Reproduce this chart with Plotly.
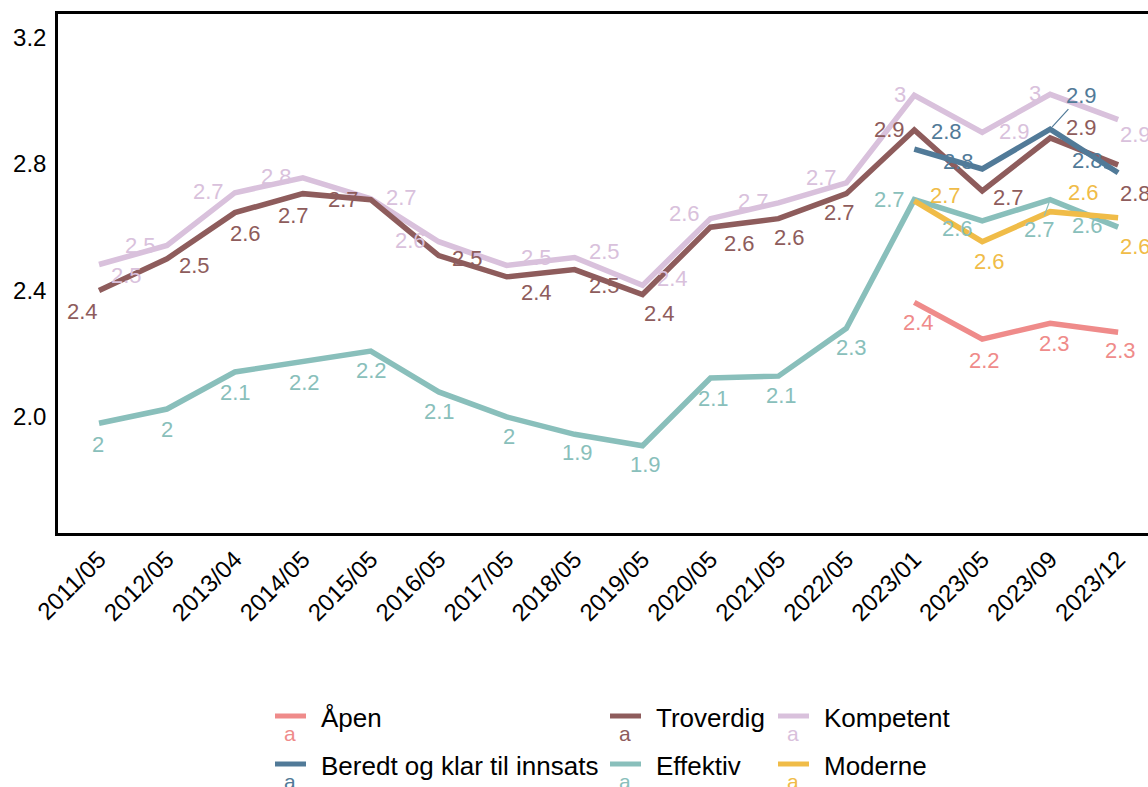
import plotly.graph_objects as go

# ---------------- data ----------------
categories = ["2011/05", "2012/05", "2013/04", "2014/05", "2015/05", "2016/05",
              "2017/05", "2018/05", "2019/05", "2020/05", "2021/05", "2022/05",
              "2023/01", "2023/05", "2023/09", "2023/12"]

apen = [None, None, None, None, None, None, None, None, None, None, None, None,
        2.362, 2.246, 2.296, 2.268]
troverdig = [2.40, 2.50, 2.646, 2.706, 2.687, 2.51, 2.443, 2.466, 2.387, 2.60,
             2.627, 2.706, 2.907, 2.715, 2.882, 2.797]
kompetent = [2.482, 2.542, 2.709, 2.756, 2.69, 2.554, 2.479, 2.504, 2.416, 2.627,
             2.677, 2.74, 3.017, 2.90, 3.02, 2.94]
beredt = [None, None, None, None, None, None, None, None, None, None, None, None,
          2.847, 2.784, 2.91, 2.772]
effektiv = [1.98, 2.025, 2.142, 2.176, 2.208, 2.079, 2.0, 1.945, 1.909, 2.123,
            2.129, 2.28, 2.687, 2.62, 2.687, 2.60]
moderne = [None, None, None, None, None, None, None, None, None, None, None, None,
           2.683, 2.554, 2.649, 2.63]

y_ticks = [2.0, 2.4, 2.8, 3.2]

# ---------------- styles ----------------
FONT = "Liberation Sans, Arial, Helvetica, sans-serif"
colors = {
    "Åpen": "#EF8B8A",
    "Troverdig": "#8E5C5C",
    "Kompetent": "#D9C1DC",
    "Beredt og klar til innsats": "#517A98",
    "Effektiv": "#89BFBB",
    "Moderne": "#F0BC48",
}
series = {
    "Åpen": apen,
    "Troverdig": troverdig,
    "Kompetent": kompetent,
    "Beredt og klar til innsats": beredt,
    "Effektiv": effektiv,
    "Moderne": moderne,
}
draw_order = ["Kompetent", "Troverdig", "Effektiv", "Moderne",
              "Beredt og klar til innsats", "Åpen"]

# label nudges in pixels (dx right, dy down), per point; None -> no point
label_nudge = {
    "Kompetent": [(27, 11), (-26, 0), (-26, -1), (-26, -1), (31, -1), (-28, -1),
                  (30, -8), (30, -6), (30, -7), (-26, -5), (-25, -1), (-25, -5),
                  (-14, -1), (32, -1), (-15, -1), (17, 15)],
    "Troverdig": [(-17, 21), (28, 7), (11, 21), (-9, 22), (-27, 0), (29, 3),
                  (30, 16), (30, 16), (17, 19), (29, 16), (11, 19), (-7, 19),
                  (-25, -1), (26, 7), (31, -10), (17, 29)],
    "Effektiv": [(-1, 21), (0, 20), (1, 20), (2, 21), (1, 19), (1, 20),
                 (2, 20), (3, 18), (3, 19), (3, 20), (3, 19), (5, 19),
                 (-25, 0), (-25, 8), (-11, 30), (-31, -2)],
    "Moderne": [None] * 12 + [(31, -5), (7, 20), (33, -19), (17, 29)],
    "Beredt og klar til innsats": [None] * 12 + [(32, -18), (-24, -7), (31, -34), (-31, -12)],
    "Åpen": [None] * 12 + [(4, 20), (2, 21), (4, 20), (2, 18)],
}
# labels that get a repel segment
segments = {("Beredt og klar til innsats", 14), ("Beredt og klar til innsats", 15),
            ("Effektiv", 14)}

fig = go.Figure()
for name in draw_order:
    fig.add_trace(go.Scatter(
        x=categories, y=series[name], mode="lines", name=name,
        line=dict(color=colors[name], width=5.5), connectgaps=False,
        showlegend=False, hoverinfo="skip"))


def fmt(v):
    return f"{round(v, 1):g}"


LABEL_SIZE = 22
annotations = []
for name in draw_order:
    vals = series[name]
    for i, v in enumerate(vals):
        if v is None:
            continue
        dx, dy = label_nudge[name][i]
        if (name, i) in segments:
            annotations.append(dict(
                x=categories[i], y=v, xref="x", yref="y", text=fmt(v),
                showarrow=True, ax=dx, ay=dy, arrowhead=0, arrowwidth=1.2,
                arrowcolor=colors[name], standoff=3,
                font=dict(family=FONT, size=LABEL_SIZE, color=colors[name])))
        else:
            annotations.append(dict(
                x=categories[i], y=v, xref="x", yref="y", text=fmt(v),
                showarrow=False, xshift=dx, yshift=-dy,
                font=dict(family=FONT, size=LABEL_SIZE, color=colors[name])))

# ---------------- custom legend ----------------
W, H = 1148, 787
ML, MR, MT, MB = 58, 0, 14, 254
PW, PH = W - ML - MR, H - MT - MB


def px(xp):
    return (xp - ML) / PW


def py(yp):
    return (H - MB - yp) / PH


legend_layout = [
    ("Åpen", 275, 717), ("Troverdig", 610, 717), ("Kompetent", 778, 717),
    ("Beredt og klar til innsats", 275, 765), ("Effektiv", 610, 765), ("Moderne", 778, 765),
]
shapes = []
for name, x0, yc in legend_layout:
    shapes.append(dict(type="line", xref="paper", yref="paper",
                       x0=px(x0), x1=px(x0 + 31), y0=py(yc - 1), y1=py(yc - 1),
                       line=dict(color=colors[name], width=5)))
    annotations.append(dict(xref="paper", yref="paper", x=px(x0 + 44), y=py(yc + 1),
                            xanchor="left", yanchor="middle", text=name, showarrow=False,
                            font=dict(family=FONT, size=26, color="black")))
    annotations.append(dict(xref="paper", yref="paper", x=px(x0 + 15), y=py(yc + 16),
                            xanchor="center", yanchor="middle", text="a", showarrow=False,
                            font=dict(family=FONT, size=21, color=colors[name])))

fig.update_layout(
    width=W, height=H,
    margin=dict(l=ML, r=MR, t=MT, b=MB, pad=0),
    paper_bgcolor="white", plot_bgcolor="white",
    font=dict(family=FONT, color="black"),
    showlegend=False,
    annotations=annotations,
    shapes=shapes,
    xaxis=dict(type="category", range=[-0.604, 15.44], showgrid=False, zeroline=False,
               showline=True, mirror=True, linecolor="black", linewidth=2.5,
               ticks="", tickangle=-45, tickfont=dict(family=FONT, size=24, color="black")),
    yaxis=dict(range=[1.633, 3.274], showgrid=False, zeroline=False,
               showline=True, mirror=False, linecolor="black", linewidth=2.5,
               ticks="", tickvals=y_ticks, tickformat=".1f", ticklabelstandoff=4,
               tickfont=dict(family=FONT, size=24, color="black")),
)

fig.write_html("out.html",
               config={"displayModeBar": False},
               post_script="document.body.style.margin='0';document.body.style.overflow='hidden';")
